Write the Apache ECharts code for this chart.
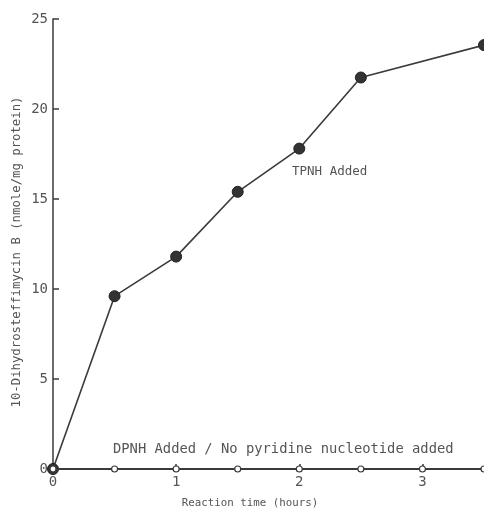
<!DOCTYPE html>
<html>
<head>
<meta charset="utf-8">
<script src="https://cdn.jsdelivr.net/npm/echarts@6/dist/echarts.min.js"></script>
<style>
  html, body { margin: 0; padding: 0; background: #fff; }
  #chart_box { width: 484px; height: 511px; }
</style>
</head>
<body>
<div id="chart_box"></div>
<script>
// reaction time (hours) and product formed (nmole/mg protein)
let tpnhTimes = [0, 0.5, 1, 1.5, 2, 2.5, 3.5]
let tpnhValues = [0, 9.6, 11.8, 15.4, 17.8, 21.75, 23.55]
let dpnhTimes = [0, 0.5, 1, 1.5, 2, 2.5, 3, 3.5]
let dpnhValues = [0, 0, 0, 0, 0, 0, 0, 0]
let xTicks = [0, 1, 2, 3]
let yTicks = [0, 5, 10, 15, 20, 25]

let ink = '#3a3a3a'
let textInk = '#555'
let font = 'DejaVu Sans Mono'

function pairs(xs, ys) {
    return xs.map((x, i) => [x, ys[i]])
}

let myChart = echarts.init(document.getElementById('chart_box'))
let option = {
    backgroundColor: '#fff',
    animation: false,
    grid: {
        left: 53,
        right: 0,
        top: 19,
        bottom: 42
    },
    xAxis: {
        type: 'value',
        min: 0,
        max: 3.5,
        interval: 1,
        splitLine: { show: false },
        axisLine: { lineStyle: { color: ink, width: 1.5 } },
        axisTick: { inside: true, length: 5, lineStyle: { color: ink, width: 1.5 } },
        axisLabel: {
            fontFamily: font, fontSize: 14, color: textInk, margin: 6,
            showMaxLabel: false,
            formatter: function (v) { return xTicks.indexOf(v) >= 0 ? String(v) : '' }
        }
    },
    yAxis: {
        type: 'value',
        min: 0,
        max: 25,
        interval: 5,
        splitLine: { show: false },
        axisLine: { show: true, lineStyle: { color: ink, width: 1.5 } },
        axisTick: { show: true, inside: true, length: 6, lineStyle: { color: ink, width: 1.5 } },
        axisLabel: {
            fontFamily: font, fontSize: 14, color: textInk, margin: 5,
            formatter: function (v) { return yTicks.indexOf(v) >= 0 ? String(v) : '' }
        }
    },
    graphic: [
        {
            type: 'text', x: 17, y: 252, rotation: Math.PI / 2,
            style: {
                text: '10-Dihydrosteffimycin B (nmole/mg protein)',
                font: '12.3px ' + font, fill: textInk, align: 'center', verticalAlign: 'middle'
            }
        },
        {
            type: 'text', x: 250, y: 503,
            style: {
                text: 'Reaction time (hours)',
                font: '10.8px ' + font, fill: textInk, align: 'center', verticalAlign: 'middle'
            }
        },
        {
            type: 'text', x: 292, y: 172,
            style: { text: 'TPNH Added', font: '12.5px ' + font, fill: textInk, verticalAlign: 'middle' }
        },
        {
            type: 'text', x: 113, y: 449,
            style: {
                text: 'DPNH Added / No pyridine nucleotide added',
                font: '13.8px ' + font, fill: textInk, verticalAlign: 'middle'
            }
        }
    ],
    series: [
        {
            name: 'TPNH',
            type: 'line',
            data: pairs(tpnhTimes, tpnhValues),
            clip: false,
            symbol: 'circle',
            symbolSize: 11,
            lineStyle: { color: ink, width: 1.6 },
            itemStyle: { color: '#333', borderColor: '#222', borderWidth: 1 },
            z: 3
        },
        {
            name: 'DPNH',
            type: 'line',
            data: pairs(dpnhTimes, dpnhValues),
            clip: false,
            symbol: 'circle',
            symbolSize: 6,
            lineStyle: { color: ink, width: 2 },
            itemStyle: { color: '#fff', borderColor: ink, borderWidth: 1.2 },
            z: 4
        }
    ]
}
myChart.setOption(option, true)
</script>
</body>
</html>
